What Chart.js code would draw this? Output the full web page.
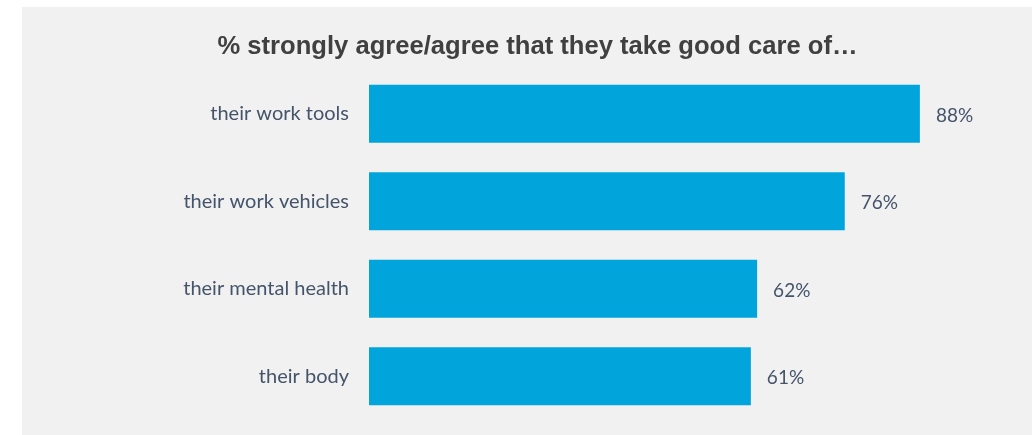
<!DOCTYPE html>
<html>
<head>
<meta charset="utf-8">
<style>
  html, body { margin: 0; padding: 0; background: #ffffff; }
  #panel { position: absolute; left: 22px; top: 7px; width: 1010px; height: 428px; background: #f1f1f1; }
</style>
</head>
<body>
<div id="panel"><canvas id="careChart" width="1010" height="428"></canvas></div>
<script src="https://cdn.jsdelivr.net/npm/chart.js"></script>
<script>
const categories = ['their work tools', 'their work vehicles', 'their mental health', 'their body'];
const agreeValues = [88, 76, 62, 61];
const chartTitle = '% strongly agree/agree that they take good care of…';

// title drawn by hand so it can sit a little right of centre like the original
const titleText = {
  id: 'titleText',
  afterDraw(chart) {
    const ctx = chart.ctx;
    ctx.save();
    ctx.font = 'bold 25.6px "Liberation Sans"';
    ctx.fillStyle = '#404040';
    ctx.textAlign = 'center';
    ctx.textBaseline = 'alphabetic';
    ctx.fillText(chartTitle, 515.5, 47);
    ctx.restore();
  }
};

// draws "88%" etc. just past the end of each bar
const valueLabels = {
  id: 'valueLabels',
  afterDatasetsDraw(chart) {
    const ctx = chart.ctx;
    const meta = chart.getDatasetMeta(0);
    ctx.save();
    ctx.font = '19px Lato';
    ctx.fillStyle = '#44546A';
    ctx.textAlign = 'left';
    ctx.textBaseline = 'middle';
    meta.data.forEach((bar, i) => {
      ctx.fillText(agreeValues[i] + '%', bar.x + 16, bar.y + 2);
    });
    ctx.restore();
  }
};

const ctx = document.getElementById('careChart').getContext('2d');
new Chart(ctx, {
  type: 'bar',
  data: {
    labels: categories,
    datasets: [{
      data: agreeValues,
      backgroundColor: '#02A4DC',
      categoryPercentage: 1,
      barPercentage: 0.665
    }]
  },
  options: {
    indexAxis: 'y',
    responsive: false,
    animation: false,
    layout: { padding: { left: 0, right: 37, top: 63, bottom: 15 } },
    scales: {
      x: { display: false, min: 0, max: 100 },
      y: {
        grid: { display: false, drawTicks: false },
        border: { display: false },
        ticks: { color: '#44546A', font: { family: 'Lato', size: 20 }, padding: 20 },
        afterFit(scale) {
          scale.width = 347;
          // labels sit beside the bars, so no extra room above/below is needed
          scale.paddingTop = 0;
          scale.paddingBottom = 0;
        }
      }
    },
    plugins: {
      legend: { display: false },
      tooltip: { enabled: false },
      title: { display: false }
    }
  },
  plugins: [valueLabels, titleText]
});
</script>
</body>
</html>
